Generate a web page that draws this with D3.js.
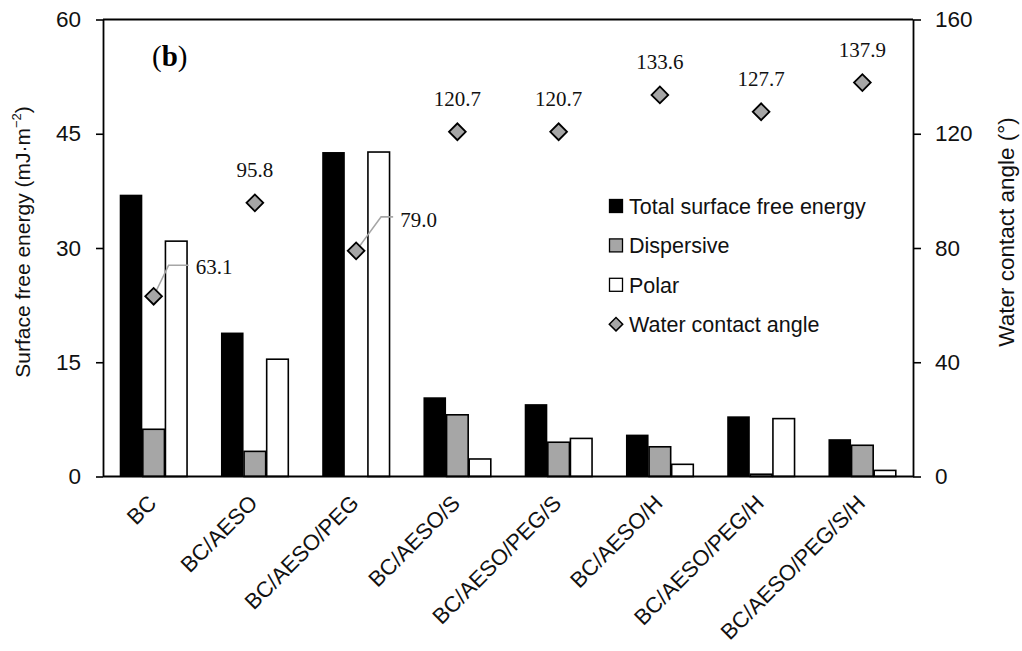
<!DOCTYPE html>
<html>
<head>
<meta charset="utf-8">
<script src="https://cdn.jsdelivr.net/npm/d3@7/dist/d3.min.js"></script>
<style>
  html, body { margin: 0; padding: 0; background: #ffffff; }
  svg { display: block; }
  .sans { font-family: "Liberation Sans", Arial, sans-serif; }
  .serif { font-family: "Liberation Serif", "Times New Roman", serif; }
</style>
</head>
<body>
<script>
// ---------------- data ----------------
const categories = ["BC", "BC/AESO", "BC/AESO/PEG", "BC/AESO/S", "BC/AESO/PEG/S", "BC/AESO/H", "BC/AESO/PEG/H", "BC/AESO/PEG/S/H"];
const totalSFE   = [37.0, 18.9, 42.6, 10.4, 9.5, 5.5, 7.9, 4.9];
const dispersive = [6.2, 3.3, 0.0, 8.1, 4.5, 3.9, 0.3, 4.1];
const polar      = [30.9, 15.4, 42.6, 2.3, 5.0, 1.6, 7.6, 0.8];
const waterAngle = [63.1, 95.8, 79.0, 120.7, 120.7, 133.6, 127.7, 137.9];
const leftTicks  = [0, 15, 30, 45, 60];
const rightTicks = [0, 40, 80, 120, 160];
const seriesNames = ["Total surface free energy", "Dispersive", "Polar"];
const seriesValues = [totalSFE, dispersive, polar];
const angleName = "Water contact angle";

// ---------------- layout ----------------
const W = 1022, H = 651;
const pL = 103, pR = 913, pT = 19.5, pB = 476.5;
const barFills = ["#000000", "#a6a6a6", "#ffffff"];

const svg = d3.select("body").append("svg").attr("width", W).attr("height", H);

const x = d3.scaleBand().domain(categories).range([pL, pR]).paddingInner(0.33).paddingOuter(0.165);
const xs = d3.scaleBand().domain(d3.range(seriesNames.length)).range([0, x.bandwidth()]);
const yL = d3.scaleLinear().domain([0, 60]).range([pB, pT]);
const yR = d3.scaleLinear().domain([0, 160]).range([pB, pT]);

// bars
const barData = [];
categories.forEach((c, i) => seriesValues.forEach((arr, s) => barData.push({c, s, v: arr[i]})));
svg.append("g").selectAll("rect").data(barData).join("rect")
  .attr("x", d => x(d.c) + xs(d.s) + (d.s === 0 ? 0 : 0.5))
  .attr("width", d => xs.bandwidth() - (d.s === 0 ? 0 : 1))
  .attr("y", d => yL(d.v))
  .attr("height", d => pB - yL(d.v))
  .attr("fill", d => barFills[d.s])
  .attr("stroke", "#000")
  .attr("stroke-width", d => d.s === 0 ? 0 : 1.6);

// top frame line
svg.append("line").attr("x1", pL).attr("x2", pR).attr("y1", pT).attr("y2", pT)
  .attr("stroke", "#000").attr("stroke-width", 1.8);

// axes
const axL = svg.append("g").attr("transform", `translate(${pL},0)`)
  .call(d3.axisLeft(yL).tickValues(leftTicks).tickSize(7).tickPadding(15).tickSizeOuter(0));
const axR = svg.append("g").attr("transform", `translate(${pR},0)`)
  .call(d3.axisRight(yR).tickValues(rightTicks).tickSize(8).tickPadding(14).tickSizeOuter(0));
[axL, axR].forEach(a => {
  a.select(".domain").attr("stroke", "#000").attr("stroke-width", 1.8);
  a.selectAll(".tick line").attr("stroke", "#000").attr("stroke-width", 1.6);
  a.selectAll(".tick text").attr("font-size", 22.5).attr("fill", "#111")
    .attr("font-family", "Liberation Sans, Arial, sans-serif");
});
svg.append("line").attr("x1", pL).attr("x2", pR).attr("y1", pB).attr("y2", pB)
  .attr("stroke", "#000").attr("stroke-width", 2);

// x labels
svg.append("g").selectAll("text").data(categories).join("text")
  .attr("class", "sans")
  .attr("font-size", 22)
  .attr("fill", "#111")
  .attr("text-anchor", "end")
  .attr("transform", d => `translate(${x(d) + x.bandwidth() / 2 + 4},${pB + 28}) rotate(-45)`)
  .text(d => d);

// axis titles
svg.append("text").attr("class", "sans").attr("font-size", 21).attr("fill", "#111")
  .attr("text-anchor", "middle")
  .attr("transform", `translate(30,${(pT + pB) / 2 - 6}) rotate(-90)`)
  .call(t => {
    t.append("tspan").text("Surface free energy (mJ·m");
    t.append("tspan").attr("font-size", 13).attr("dy", -9).text("−2");
    t.append("tspan").attr("dy", 9).text(")");
  });
svg.append("text").attr("class", "sans").attr("font-size", 22.5).attr("fill", "#111")
  .attr("text-anchor", "middle")
  .attr("transform", `translate(1014,${(pT + pB) / 2 - 16}) rotate(-90)`)
  .text("Water contact angle (°)");

// (b) panel label
svg.append("text").attr("class", "serif").attr("font-size", 29).attr("fill", "#000")
  .attr("x", 152).attr("y", 66)
  .call(t => {
    t.append("tspan").text("(");
    t.append("tspan").attr("font-weight", "bold").text("b");
    t.append("tspan").text(")");
  });

// water contact angle markers
const diamond = d3.symbol(d3.symbolSquare, 140);
const cx = c => x(c) + x.bandwidth() / 2;
const pts = categories.map((c, i) => ({c, v: waterAngle[i], i}));

// leader-lined labels (indices 0 and 2), placement offsets
const leader = {0: {bx: 15, by: -31, ex: 35, lx: 42, ly: -29}, 2: {bx: 25, by: -34, ex: 37, lx: 44, ly: -31}};
pts.filter(p => leader[p.i]).forEach(p => {
  const o = leader[p.i], X = cx(p.c), Y = yR(p.v);
  svg.append("path")
    .attr("d", `M${X},${Y} L${X + o.bx},${Y + o.by} L${X + o.ex},${Y + o.by}`)
    .attr("fill", "none").attr("stroke", "#a6a6a6").attr("stroke-width", 1.6);
});

svg.append("g").selectAll("path").data(pts).join("path")
  .attr("d", diamond)
  .attr("transform", d => `translate(${cx(d.c)},${yR(d.v)}) rotate(45)`)
  .attr("fill", "#a6a6a6").attr("stroke", "#000").attr("stroke-width", 1.8);

svg.append("g").selectAll("text").data(pts).join("text")
  .attr("class", "serif").attr("font-size", 21).attr("fill", "#111")
  .attr("text-anchor", d => leader[d.i] ? "start" : "middle")
  .attr("x", d => cx(d.c) + (leader[d.i] ? leader[d.i].lx : 0))
  .attr("y", d => yR(d.v) + (leader[d.i] ? leader[d.i].ly + 7 : -26))
  .text(d => d.v.toFixed(1));

// legend
const lg = svg.append("g").attr("transform", "translate(609,206)");
const rowH = 39.4;
seriesNames.forEach((n, i) => {
  const g = lg.append("g").attr("transform", `translate(0,${i * rowH})`);
  g.append("rect").attr("x", 0.5).attr("y", -6.5).attr("width", 13).attr("height", 13)
    .attr("fill", barFills[i]).attr("stroke", "#000").attr("stroke-width", 1.3);
  g.append("text").attr("class", "sans").attr("font-size", 21.5).attr("fill", "#111")
    .attr("x", 20).attr("y", 8).text(n);
});
{
  const g = lg.append("g").attr("transform", `translate(0,${3 * rowH})`);
  g.append("path").attr("d", d3.symbol(d3.symbolSquare, 90)).attr("transform", "translate(7,0) rotate(45)")
    .attr("fill", "#a6a6a6").attr("stroke", "#000").attr("stroke-width", 1.5);
  g.append("text").attr("class", "sans").attr("font-size", 21.5).attr("fill", "#111")
    .attr("x", 20).attr("y", 8).text(angleName);
}
</script>
</body>
</html>
